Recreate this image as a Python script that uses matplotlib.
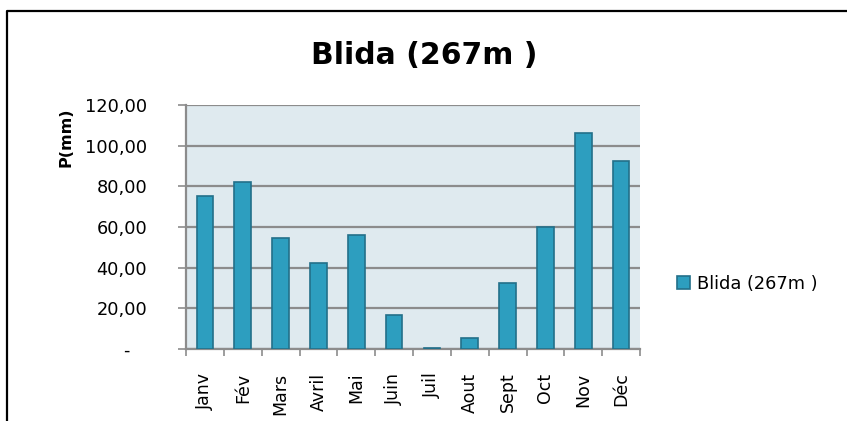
import matplotlib
matplotlib.use("Agg")
import matplotlib.pyplot as plt
from matplotlib.patches import Patch
from matplotlib.lines import Line2D
import numpy as np

# monthly precipitation, Blida (267m)
months = ['Janv', 'Fév', 'Mars', 'Avril', 'Mai', 'Juin',
          'Juil', 'Aout', 'Sept', 'Oct', 'Nov', 'Déc']
precip = [75.4, 82.0, 54.7, 42.4, 56.1, 16.5, 0.5, 5.2, 32.7, 60.1, 106.2, 92.5]
yticks = [0, 20, 40, 60, 80, 100, 120]
series_name = 'Blida (267m )'

W, H = 847, 421
fig = plt.figure(figsize=(W / 100, H / 100), dpi=100)
fig.patch.set_facecolor('white')

# plot area placed in pixels
ax = fig.add_axes([186 / W, 1 - 349 / H, 454 / W, 244 / H])
ax.set_facecolor('#dfeaef')

bar_color = '#2d9ebf'
edge_color = '#23708a'
x = np.arange(len(months))
ax.bar(x, precip, width=0.44, color=bar_color, edgecolor=edge_color,
       linewidth=1.2, zorder=3)

ax.set_xlim(-0.5, len(months) - 0.5)
ax.set_ylim(0, 120)

grid_color = '#8c8c8c'
ax.set_yticks(yticks)
ax.set_yticklabels(['-   ' if v == 0 else f'{v:.2f}'.replace('.', ',') for v in yticks])
ax.yaxis.grid(True, color=grid_color, linewidth=1.6, zorder=1)
ax.tick_params(axis='y', direction='out', length=6, width=1.2, color=grid_color,
               pad=22, labelsize=12.8)

# ticks between categories, labels at centers
ax.set_xticks(np.arange(-0.5, len(months)), minor=False)
ax.set_xticklabels([])
ax.set_xticks(x, minor=True)
ax.set_xticklabels(months, minor=True, rotation=90, fontsize=12.5, va='top')
ax.tick_params(axis='x', which='major', direction='out', length=5, width=1.2,
               color=grid_color)
ax.tick_params(axis='x', which='minor', length=0, pad=17)

for s in ['top', 'right']:
    ax.spines[s].set_visible(False)
for s in ['left', 'bottom']:
    ax.spines[s].set_color(grid_color)
    ax.spines[s].set_linewidth(1.6)

fig.text(424 / W, 1 - 55 / H, series_name, ha='center', va='center',
         fontsize=21.5, fontweight='bold')
fig.text(66 / W, 1 - 137 / H, 'P(mm)', rotation=90, ha='center', va='center',
         fontsize=11.5, fontweight='bold')

handle = Patch(facecolor=bar_color, edgecolor=edge_color, linewidth=1.2)
fig.legend([handle], [series_name], loc='center left',
           bbox_to_anchor=(677 / W, 1 - 284 / H), frameon=False,
           fontsize=12.8, handlelength=0.75, handleheight=0.75,
           handletextpad=0.4, borderpad=0, borderaxespad=0)

# outer chart frame (clipped at right and bottom)
fig.add_artist(Line2D([7 / W, 7 / W, 1.0], [0.0, 1 - 11 / H, 1 - 11 / H],
                      transform=fig.transFigure, color='black', linewidth=1.6))

fig.savefig('out.png', dpi=100)
